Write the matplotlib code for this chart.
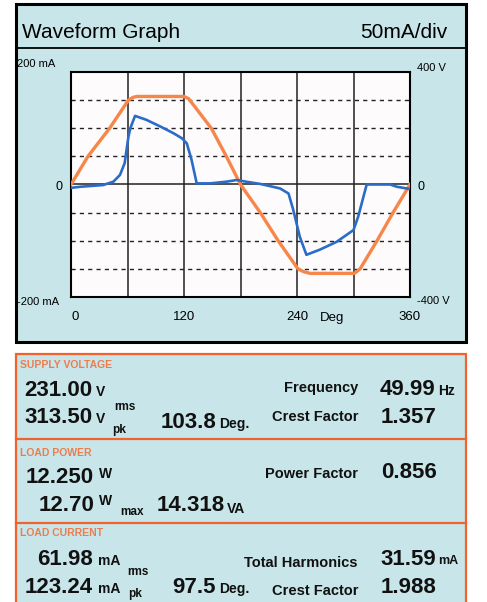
import numpy as np
import matplotlib.pyplot as plt
from matplotlib.patches import Rectangle

# waveform data (degrees, volts / milliamps)
deg_v = [0, 18, 41, 61, 66, 70, 120, 125, 149, 165, 180, 201, 220, 241, 247, 254, 301, 307, 325, 342, 360]
volt = [0, 100, 200, 300, 310, 313, 313, 305, 200, 100, 0, -100, -200, -300, -310, -316, -316, -300, -200, -100, 0]

deg_i = [0, 10, 34, 45, 52, 57, 61, 63, 68, 80, 95, 109, 118, 123, 128, 133.5, 148, 165, 176, 186,
         201, 222, 231, 236, 243, 250, 264, 282, 300, 305, 314, 339, 346, 360]
cur = [-6, -4, -1, 5, 17, 38, 85, 100, 122, 115, 103, 91, 82, 73, 44, 2, 2, 5, 8, 5,
       1, -7, -16, -45, -93, -125, -116, -102, -81, -57, 0, 0, -4, -8]

x_ticks = [0, 120, 240, 360]

# readings panel
supply = {'vrms': '231.00', 'vpk': '313.50', 'phase': '103.8', 'freq': '49.99', 'crest': '1.357'}
power = {'w': '12.250', 'wmax': '12.70', 'va': '14.318', 'pf': '0.856'}
current = {'irms': '61.98', 'ipk': '123.24', 'phase': '97.5', 'thd': '31.59', 'crest': '1.988'}

PANEL = '#c8e6e9'
ORANGE = '#f7864a'
BLUE = '#2b6cc8'
BORDER = '#f2622c'
FONT = 'Liberation Sans'

W, H = 487, 602
fig = plt.figure(figsize=(W / 100, H / 100), dpi=100)
plt.rcParams['font.family'] = FONT

bg = fig.add_axes([0, 0, 1, 1])
bg.set_xlim(0, W)
bg.set_ylim(H, 0)
bg.axis('off')

# top panel
bg.add_patch(Rectangle((16, 4), 450, 338, fc=PANEL, ec='black', lw=2.2))
bg.plot([16, 466], [48, 48], color='black', lw=1.3)
bg.text(22, 38, 'Waveform Graph', fontsize=15, va='baseline')
bg.text(447, 38, '50mA/div', fontsize=15, va='baseline', ha='right')

bg.text(17, 64, '200 mA', fontsize=8, va='center')
bg.text(17, 302, '-200 mA', fontsize=8, va='center')
bg.text(62, 187, '0', fontsize=9, va='center', ha='right')
bg.text(417, 68, '400 V', fontsize=8, va='center')
bg.text(417, 301, '-400 V', fontsize=8, va='center')
bg.text(418, 187, '0', fontsize=9, va='center')
bg.text(332, 318, 'Deg', fontsize=9.5, va='center', ha='center')

# plot area
x0, x1, y0, y1 = 71, 410, 72, 297
axv = fig.add_axes([x0 / W, 1 - y1 / H, (x1 - x0) / W, (y1 - y0) / H])
axv.set_facecolor('#fdfbfb')
axv.set_xlim(0, 360)
axv.set_ylim(-400, 400)
for d in range(60, 360, 60):
    axv.axvline(d, color='#222222', lw=1.1, zorder=1)
for v in [-300, -200, -100, 100, 200, 300]:
    axv.axhline(v, color='#222222', lw=1.0, ls=(0, (3, 3)), zorder=1)
axv.axhline(0, color='#222222', lw=1.1, zorder=1)
axv.plot(deg_v, volt, color=ORANGE, lw=2.4, zorder=3, solid_joinstyle='round')
axv.set_yticks([])
axv.set_xticks(x_ticks)
axv.set_xticklabels([str(t) for t in x_ticks], fontsize=9.5)
axv.tick_params(axis='x', length=0, pad=10)
axv.get_xticklabels()[0].set_horizontalalignment('left')
for s in axv.spines.values():
    s.set_color('black')
    s.set_linewidth(1.5)

axi = axv.twinx()
axi.set_ylim(-200, 200)
axi.plot(deg_i, cur, color=BLUE, lw=1.9, zorder=4)
axi.set_yticks([])
for s in axi.spines.values():
    s.set_visible(False)

# readings panel
bg.add_patch(Rectangle((16, 354), 450, 270, fc=PANEL, ec=BORDER, lw=1.6))
bg.plot([16, 466], [439, 439], color=BORDER, lw=1.6)
bg.plot([16, 466], [523, 523], color=BORDER, lw=1.6)

hdr = dict(fontsize=7.5, color='#f26a35', weight='bold', va='baseline', alpha=0.85)
bg.text(20, 368, 'SUPPLY VOLTAGE', **hdr)
bg.text(20, 456, 'LOAD POWER', **hdr)
bg.text(20, 536, 'LOAD CURRENT', **hdr)

big = dict(fontsize=16, weight='bold', va='baseline', color='#111111')
lab = dict(fontsize=10.5, weight='bold', va='baseline', ha='right', color='#111111')
unit = dict(fontsize=10, weight='bold', va='baseline', color='#111111')
sub = dict(fontsize=8.5, weight='bold', va='baseline', color='#111111')

# supply voltage
bg.text(24, 396, supply['vrms'], **big)
bg.text(96, 396, 'V', **unit)
bg.text(114, 410, 'rms', **sub)
bg.text(24, 423, supply['vpk'], **big)
bg.text(96, 423, 'V', **unit)
bg.text(112, 433, 'pk', **sub)
bg.text(161, 428, supply['phase'], **big)
bg.text(219, 428, 'Deg.', **unit)
bg.text(358, 392, 'Frequency', **lab)
bg.text(358, 421, 'Crest Factor', **lab)
bg.text(380, 395, supply['freq'], **big)
bg.text(438, 395, 'Hz', **unit)
bg.text(381, 423, supply['crest'], **big)

# load power
bg.text(26, 483, power['w'], **big)
bg.text(99, 478, 'W', **unit)
bg.text(358, 478, 'Power Factor', **lab)
bg.text(381, 478, power['pf'], **big)
bg.text(39, 511, power['wmax'], **big)
bg.text(99, 505, 'W', **unit)
bg.text(120, 515, 'max', **sub)
bg.text(157, 511, power['va'], **big)
bg.text(227, 513, 'VA', **unit)

# load current
bg.text(37, 565, current['irms'], **big)
bg.text(98, 565, 'mA', **unit)
bg.text(127, 575, 'rms', **sub)
bg.text(25, 593, current['ipk'], **big)
bg.text(98, 593, 'mA', **unit)
bg.text(128, 597, 'pk', **sub)
bg.text(172, 593, current['phase'], **big)
bg.text(219, 593, 'Deg.', **unit)
bg.text(358, 567, 'Total Harmonics', **lab)
bg.text(358, 595, 'Crest Factor', **lab)
bg.text(380, 565, current['thd'], **big)
bg.text(438, 564, 'mA', **dict(unit, fontsize=9))
bg.text(381, 593, current['crest'], **big)

fig.savefig('out.png', dpi=100)
